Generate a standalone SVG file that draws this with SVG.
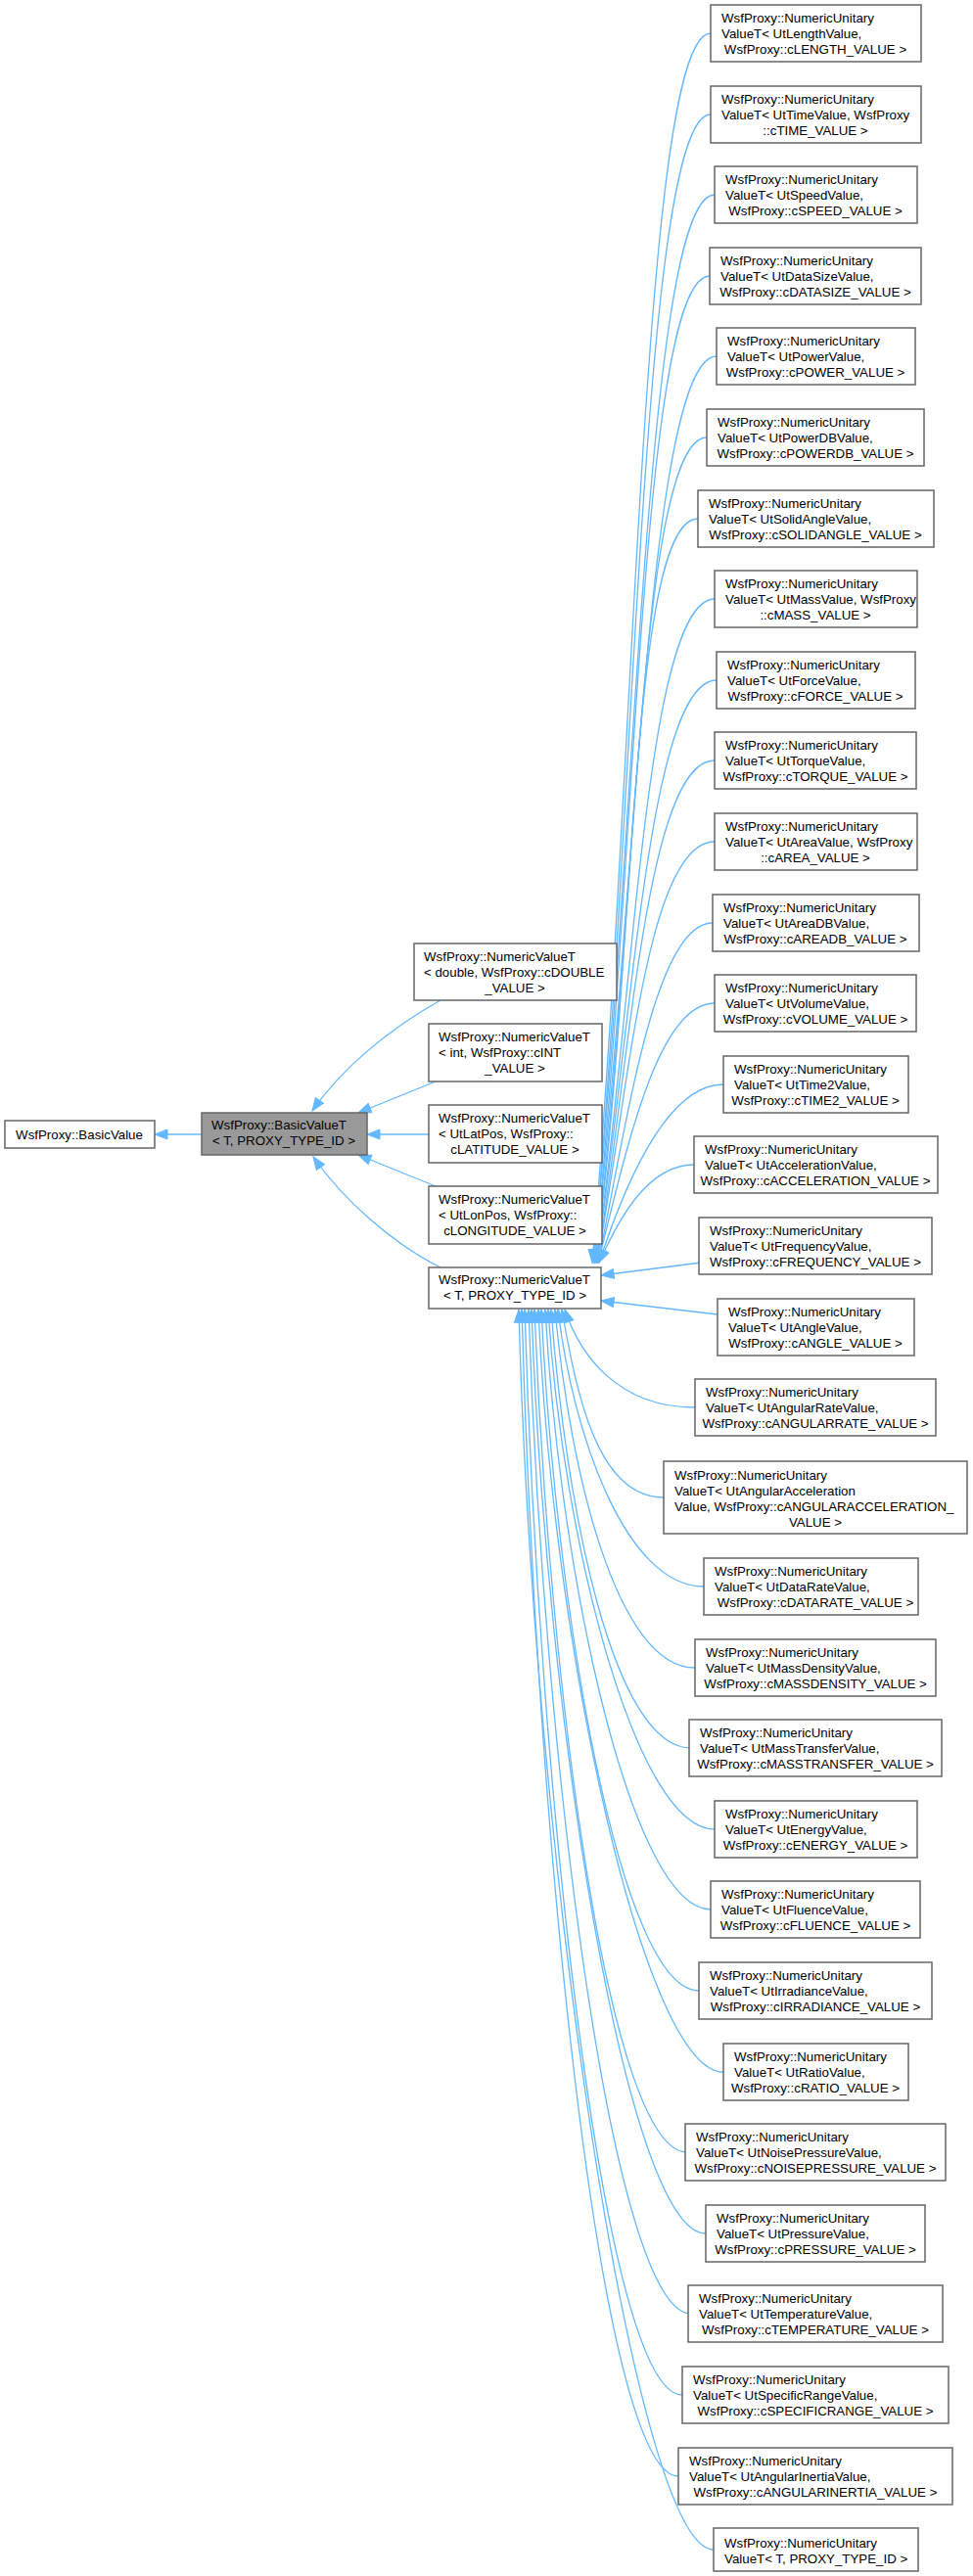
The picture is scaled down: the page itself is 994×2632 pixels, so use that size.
<svg xmlns="http://www.w3.org/2000/svg" width="994" height="2632" viewBox="0 0 994 2632">
<style>
.n rect{fill:#fff;stroke:#666;stroke-width:1.5}
.g rect{fill:#999;stroke:#666;stroke-width:1.5}
text{font-family:"Liberation Sans",Arial,sans-serif;font-size:13.3px;fill:#000}
.m{text-anchor:middle}
.e path{fill:none;stroke:#63b8ff;stroke-width:1.3;marker-end:url(#a)}
</style>
<defs><marker id="a" markerWidth="16" markerHeight="12" refX="14" refY="6" orient="auto" markerUnits="userSpaceOnUse"><path d="M1,1 L14,6 L1,11 z" fill="#63b8ff" stroke="#63b8ff"/></marker></defs>
<rect width="994" height="2632" fill="#fff"/>
<g class="e">
<path d="M206,1159 L158,1159"/>
<path d="M450,1022 C400,1050 350,1090 319,1135"/>
<path d="M445,1105 L366,1137"/>
<path d="M438,1159 L375,1159"/>
<path d="M445,1212 L366,1180"/>
<path d="M450,1295 C400,1270 350,1225 320,1182"/>
<path d="M726,34 C656,34 650,784 605,1290"/>
<path d="M726,117 C656,117 650,821 606,1290"/>
<path d="M730,199 C660,199 650,853 606,1290"/>
<path d="M725,282 C655,282 650,887 607,1290"/>
<path d="M732,364 C662,364 650,920 607,1290"/>
<path d="M722,447 C652,447 650,953 608,1290"/>
<path d="M713,530 C643,530 650,986 608,1290"/>
<path d="M730,612 C660,612 648,1019 609,1290"/>
<path d="M732,695 C662,695 646,1052 609,1290"/>
<path d="M730,777 C660,777 644,1085 610,1290"/>
<path d="M730,860 C660,860 642,1118 610,1290"/>
<path d="M728,943 C668,943 640,1151 611,1290"/>
<path d="M730,1025 C670,1025 638,1184 611,1290"/>
<path d="M739,1108 C679,1108 636,1217 612,1290"/>
<path d="M709,1190 C660,1190 630,1250 612,1290"/>
<path d="M717,1290 L614,1303"/>
<path d="M733,1343 L614,1329"/>
<path d="M710,1438 C630,1438 592,1383 577,1338"/>
<path d="M678,1530 C610,1530 589,1424 574,1338"/>
<path d="M719,1621 C639,1621 585,1465 570,1338"/>
<path d="M710,1704 C630,1704 582,1503 567,1338"/>
<path d="M706,1786 C626,1786 578,1540 563,1338"/>
<path d="M730,1869 C650,1869 575,1577 560,1338"/>
<path d="M726,1951 C646,1951 572,1614 557,1338"/>
<path d="M714,2034 C634,2034 568,1651 553,1338"/>
<path d="M739,2117 C659,2117 565,1689 550,1338"/>
<path d="M702,2199 C622,2199 561,1725 546,1338"/>
<path d="M721,2282 C641,2282 558,1763 543,1338"/>
<path d="M706,2364 C626,2364 555,1800 540,1338"/>
<path d="M697,2447 C617,2447 551,1837 536,1338"/>
<path d="M693,2530 C613,2530 548,1874 533,1338"/>
<path d="M729,2605 C649,2605 545,1908 530,1338"/>
</g>
<g id="basicvalue" class="n"><rect x="5" y="1145" width="153" height="28"/><text x="81" y="1164" class="m">WsfProxy::BasicValue</text></g>
<g id="basicvaluet" class="g"><rect x="206" y="1137" width="169" height="43"/><text x="216" y="1154">WsfProxy::BasicValueT</text><text x="290" y="1170" class="m">&lt; T, PROXY_TYPE_ID &gt;</text></g>
<g id="nv_double" class="n"><rect x="423" y="964" width="207" height="58"/><text x="433" y="982">WsfProxy::NumericValueT</text><text x="433" y="998">&lt; double, WsfProxy::cDOUBLE</text><text x="526" y="1014" class="m">_VALUE &gt;</text></g>
<g id="nv_int" class="n"><rect x="438" y="1046" width="177" height="59"/><text x="448" y="1064">WsfProxy::NumericValueT</text><text x="448" y="1080">&lt; int, WsfProxy::cINT</text><text x="526" y="1096" class="m">_VALUE &gt;</text></g>
<g id="nv_lat" class="n"><rect x="438" y="1129" width="177" height="59"/><text x="448" y="1147">WsfProxy::NumericValueT</text><text x="448" y="1163">&lt; UtLatPos, WsfProxy::</text><text x="526" y="1179" class="m">cLATITUDE_VALUE &gt;</text></g>
<g id="nv_lon" class="n"><rect x="438" y="1212" width="177" height="59"/><text x="448" y="1230">WsfProxy::NumericValueT</text><text x="448" y="1246">&lt; UtLonPos, WsfProxy::</text><text x="526" y="1262" class="m">cLONGITUDE_VALUE &gt;</text></g>
<g id="nv_t" class="n"><rect x="438" y="1295" width="176" height="42"/><text x="448" y="1312">WsfProxy::NumericValueT</text><text x="526" y="1328" class="m">&lt; T, PROXY_TYPE_ID &gt;</text></g>
<g id="u0" class="n"><rect x="726" y="5" width="215" height="58"/><text x="737" y="23">WsfProxy::NumericUnitary</text><text x="737" y="39">ValueT&lt; UtLengthValue,</text><text x="833" y="55" class="m">WsfProxy::cLENGTH_VALUE &gt;</text></g>
<g id="u1" class="n"><rect x="726" y="88" width="215" height="58"/><text x="737" y="106">WsfProxy::NumericUnitary</text><text x="737" y="122">ValueT&lt; UtTimeValue, WsfProxy</text><text x="833" y="138" class="m">::cTIME_VALUE &gt;</text></g>
<g id="u2" class="n"><rect x="730" y="170" width="207" height="58"/><text x="741" y="188">WsfProxy::NumericUnitary</text><text x="741" y="204">ValueT&lt; UtSpeedValue,</text><text x="833" y="220" class="m">WsfProxy::cSPEED_VALUE &gt;</text></g>
<g id="u3" class="n"><rect x="725" y="253" width="216" height="58"/><text x="736" y="271">WsfProxy::NumericUnitary</text><text x="736" y="287">ValueT&lt; UtDataSizeValue,</text><text x="833" y="303" class="m">WsfProxy::cDATASIZE_VALUE &gt;</text></g>
<g id="u4" class="n"><rect x="732" y="335" width="203" height="58"/><text x="743" y="353">WsfProxy::NumericUnitary</text><text x="743" y="369">ValueT&lt; UtPowerValue,</text><text x="833" y="385" class="m">WsfProxy::cPOWER_VALUE &gt;</text></g>
<g id="u5" class="n"><rect x="722" y="418" width="222" height="58"/><text x="733" y="436">WsfProxy::NumericUnitary</text><text x="733" y="452">ValueT&lt; UtPowerDBValue,</text><text x="833" y="468" class="m">WsfProxy::cPOWERDB_VALUE &gt;</text></g>
<g id="u6" class="n"><rect x="713" y="501" width="241" height="58"/><text x="724" y="519">WsfProxy::NumericUnitary</text><text x="724" y="535">ValueT&lt; UtSolidAngleValue,</text><text x="833" y="551" class="m">WsfProxy::cSOLIDANGLE_VALUE &gt;</text></g>
<g id="u7" class="n"><rect x="730" y="583" width="207" height="58"/><text x="741" y="601">WsfProxy::NumericUnitary</text><text x="741" y="617">ValueT&lt; UtMassValue, WsfProxy</text><text x="833" y="633" class="m">::cMASS_VALUE &gt;</text></g>
<g id="u8" class="n"><rect x="732" y="666" width="203" height="58"/><text x="743" y="684">WsfProxy::NumericUnitary</text><text x="743" y="700">ValueT&lt; UtForceValue,</text><text x="833" y="716" class="m">WsfProxy::cFORCE_VALUE &gt;</text></g>
<g id="u9" class="n"><rect x="730" y="748" width="206" height="58"/><text x="741" y="766">WsfProxy::NumericUnitary</text><text x="741" y="782">ValueT&lt; UtTorqueValue,</text><text x="833" y="798" class="m">WsfProxy::cTORQUE_VALUE &gt;</text></g>
<g id="u10" class="n"><rect x="730" y="831" width="207" height="58"/><text x="741" y="849">WsfProxy::NumericUnitary</text><text x="741" y="865">ValueT&lt; UtAreaValue, WsfProxy</text><text x="833" y="881" class="m">::cAREA_VALUE &gt;</text></g>
<g id="u11" class="n"><rect x="728" y="914" width="211" height="58"/><text x="739" y="932">WsfProxy::NumericUnitary</text><text x="739" y="948">ValueT&lt; UtAreaDBValue,</text><text x="833" y="964" class="m">WsfProxy::cAREADB_VALUE &gt;</text></g>
<g id="u12" class="n"><rect x="730" y="996" width="206" height="58"/><text x="741" y="1014">WsfProxy::NumericUnitary</text><text x="741" y="1030">ValueT&lt; UtVolumeValue,</text><text x="833" y="1046" class="m">WsfProxy::cVOLUME_VALUE &gt;</text></g>
<g id="u13" class="n"><rect x="739" y="1079" width="189" height="58"/><text x="750" y="1097">WsfProxy::NumericUnitary</text><text x="750" y="1113">ValueT&lt; UtTime2Value,</text><text x="833" y="1129" class="m">WsfProxy::cTIME2_VALUE &gt;</text></g>
<g id="u14" class="n"><rect x="709" y="1161" width="249" height="58"/><text x="720" y="1179">WsfProxy::NumericUnitary</text><text x="720" y="1195">ValueT&lt; UtAccelerationValue,</text><text x="833" y="1211" class="m">WsfProxy::cACCELERATION_VALUE &gt;</text></g>
<g id="u15" class="n"><rect x="714" y="1244" width="238" height="58"/><text x="725" y="1262">WsfProxy::NumericUnitary</text><text x="725" y="1278">ValueT&lt; UtFrequencyValue,</text><text x="833" y="1294" class="m">WsfProxy::cFREQUENCY_VALUE &gt;</text></g>
<g id="u16" class="n"><rect x="733" y="1327" width="201" height="58"/><text x="744" y="1345">WsfProxy::NumericUnitary</text><text x="744" y="1361">ValueT&lt; UtAngleValue,</text><text x="833" y="1377" class="m">WsfProxy::cANGLE_VALUE &gt;</text></g>
<g id="u17" class="n"><rect x="710" y="1409" width="246" height="58"/><text x="721" y="1427">WsfProxy::NumericUnitary</text><text x="721" y="1443">ValueT&lt; UtAngularRateValue,</text><text x="833" y="1459" class="m">WsfProxy::cANGULARRATE_VALUE &gt;</text></g>
<g id="u18" class="n"><rect x="678" y="1493" width="310" height="74"/><text x="689" y="1512">WsfProxy::NumericUnitary</text><text x="689" y="1528">ValueT&lt; UtAngularAcceleration</text><text x="689" y="1544">Value, WsfProxy::cANGULARACCELERATION_</text><text x="833" y="1560" class="m">VALUE &gt;</text></g>
<g id="u19" class="n"><rect x="719" y="1592" width="219" height="58"/><text x="730" y="1610">WsfProxy::NumericUnitary</text><text x="730" y="1626">ValueT&lt; UtDataRateValue,</text><text x="833" y="1642" class="m">WsfProxy::cDATARATE_VALUE &gt;</text></g>
<g id="u20" class="n"><rect x="710" y="1675" width="246" height="58"/><text x="721" y="1693">WsfProxy::NumericUnitary</text><text x="721" y="1709">ValueT&lt; UtMassDensityValue,</text><text x="833" y="1725" class="m">WsfProxy::cMASSDENSITY_VALUE &gt;</text></g>
<g id="u21" class="n"><rect x="704" y="1757" width="258" height="58"/><text x="715" y="1775">WsfProxy::NumericUnitary</text><text x="715" y="1791">ValueT&lt; UtMassTransferValue,</text><text x="833" y="1807" class="m">WsfProxy::cMASSTRANSFER_VALUE &gt;</text></g>
<g id="u22" class="n"><rect x="730" y="1840" width="207" height="58"/><text x="741" y="1858">WsfProxy::NumericUnitary</text><text x="741" y="1874">ValueT&lt; UtEnergyValue,</text><text x="833" y="1890" class="m">WsfProxy::cENERGY_VALUE &gt;</text></g>
<g id="u23" class="n"><rect x="726" y="1922" width="214" height="58"/><text x="737" y="1940">WsfProxy::NumericUnitary</text><text x="737" y="1956">ValueT&lt; UtFluenceValue,</text><text x="833" y="1972" class="m">WsfProxy::cFLUENCE_VALUE &gt;</text></g>
<g id="u24" class="n"><rect x="714" y="2005" width="238" height="58"/><text x="725" y="2023">WsfProxy::NumericUnitary</text><text x="725" y="2039">ValueT&lt; UtIrradianceValue,</text><text x="833" y="2055" class="m">WsfProxy::cIRRADIANCE_VALUE &gt;</text></g>
<g id="u25" class="n"><rect x="739" y="2088" width="189" height="58"/><text x="750" y="2106">WsfProxy::NumericUnitary</text><text x="750" y="2122">ValueT&lt; UtRatioValue,</text><text x="833" y="2138" class="m">WsfProxy::cRATIO_VALUE &gt;</text></g>
<g id="u26" class="n"><rect x="700" y="2170" width="266" height="58"/><text x="711" y="2188">WsfProxy::NumericUnitary</text><text x="711" y="2204">ValueT&lt; UtNoisePressureValue,</text><text x="833" y="2220" class="m">WsfProxy::cNOISEPRESSURE_VALUE &gt;</text></g>
<g id="u27" class="n"><rect x="721" y="2253" width="224" height="58"/><text x="732" y="2271">WsfProxy::NumericUnitary</text><text x="732" y="2287">ValueT&lt; UtPressureValue,</text><text x="833" y="2303" class="m">WsfProxy::cPRESSURE_VALUE &gt;</text></g>
<g id="u28" class="n"><rect x="703" y="2335" width="260" height="58"/><text x="714" y="2353">WsfProxy::NumericUnitary</text><text x="714" y="2369">ValueT&lt; UtTemperatureValue,</text><text x="833" y="2385" class="m">WsfProxy::cTEMPERATURE_VALUE &gt;</text></g>
<g id="u29" class="n"><rect x="697" y="2418" width="272" height="58"/><text x="708" y="2436">WsfProxy::NumericUnitary</text><text x="708" y="2452">ValueT&lt; UtSpecificRangeValue,</text><text x="833" y="2468" class="m">WsfProxy::cSPECIFICRANGE_VALUE &gt;</text></g>
<g id="u30" class="n"><rect x="693" y="2501" width="280" height="58"/><text x="704" y="2519">WsfProxy::NumericUnitary</text><text x="704" y="2535">ValueT&lt; UtAngularInertiaValue,</text><text x="833" y="2551" class="m">WsfProxy::cANGULARINERTIA_VALUE &gt;</text></g>
<g id="u31" class="n"><rect x="729" y="2583" width="209" height="44"/><text x="740" y="2603">WsfProxy::NumericUnitary</text><text x="740" y="2619">ValueT&lt; T, PROXY_TYPE_ID &gt;</text></g>
</svg>
